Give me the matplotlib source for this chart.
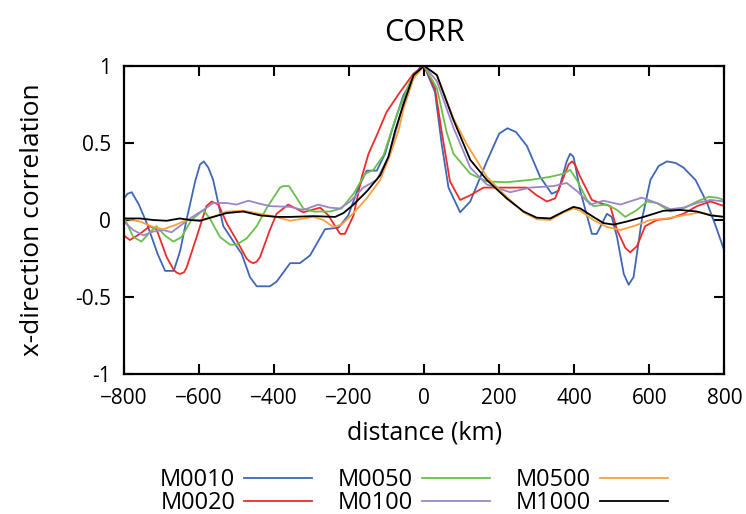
import matplotlib
matplotlib.use('Agg')
import matplotlib.pyplot as plt

plt.rcParams['font.family'] = ['Open Sans', 'DejaVu Sans']

# distance (km) / correlation pairs, one series per run
m0010_x = [-800, -790, -779, -760, -739, -710, -690, -667, -650, -633, -610, -597, -587, -575, -562,
           -535, -508, -486, -464, -446, -411, -393, -357, -331, -304, -264, -228, -202, -175, -153,
           -126, -104, -86, -55, -11, 0, 29, 47, 65, 96, 123, 167, 200, 222, 245, 274, 309, 340,
           358, 380, 389, 398, 416, 447, 460, 487, 500, 514, 532, 545, 558, 580, 603, 625, 647,
           670, 691, 723, 754, 780, 800]
m0010_y = [0.14, 0.17, 0.18, 0.10, -0.02, -0.22, -0.33, -0.33, -0.20, 0.0, 0.25, 0.36, 0.38, 0.34, 0.26,
           -0.04, -0.14, -0.22, -0.37, -0.43, -0.43, -0.40, -0.28, -0.28, -0.23, -0.06, -0.05, 0.03, 0.21, 0.32,
           0.32, 0.43, 0.58, 0.81, 0.99, 1.0, 0.83, 0.49, 0.21, 0.05, 0.12, 0.38, 0.56, 0.595, 0.57, 0.48, 0.28, 0.17,
           0.19, 0.38, 0.43, 0.41, 0.19, -0.09, -0.09, 0.04, 0.02, -0.11, -0.35, -0.42, -0.37, 0.0, 0.26, 0.35, 0.38,
           0.37, 0.34, 0.26, 0.11, -0.06, -0.2]

m0020_x = [-800, -784, -757, -731, -713, -686, -668, -660, -651, -640, -633, -606, -580, -566, -548,
           -526, -500, -473, -464, -455, -446, -437, -411, -393, -362, -322, -277, -255, -224, -211,
           -188, -166, -148, -126, -100, -64, -28, 0, 29, 47, 69, 96, 123, 158, 200, 256, 274, 300,
           327, 349, 372, 385, 394, 402, 416, 447, 469, 496, 514, 536, 549, 567, 589, 620, 656,
           691, 727, 763, 800]
m0020_y = [-0.10, -0.13, -0.09, -0.04, -0.06, -0.24, -0.32, -0.34, -0.35, -0.34, -0.31, -0.11, 0.09, 0.12, 0.10,
           -0.02, -0.13, -0.25, -0.27, -0.28, -0.27, -0.24, -0.065, 0.04, 0.10, 0.05, 0.08, 0.03, -0.09, -0.09,
           0.03, 0.28, 0.43, 0.55, 0.70, 0.83, 0.95, 1.0, 0.855, 0.57, 0.25, 0.13, 0.16, 0.21, 0.21, 0.21, 0.21, 0.16,
           0.12, 0.14, 0.28, 0.36, 0.38, 0.36, 0.28, 0.13, 0.11, 0.09, -0.065, -0.18, -0.21, -0.17, -0.04, 0.0, 0.01,
           0.04, 0.09, 0.12, 0.09]

m0050_x = [-800, -775, -753, -731, -713, -691, -668, -646, -620, -588, -571, -544, -517, -500, -473,
           -446, -420, -384, -375, -360, -344, -322, -295, -251, -220, -188, -157, -135, -108, -73,
           -37, 0, 34, 60, 78, 123, 167, 220, 283, 336, 372, 389, 407, 434, 451, 487, 514, 536,
           567, 594, 620, 656, 691, 727, 758, 780, 800]
m0050_y = [0.02, -0.11, -0.14, -0.08, -0.04, -0.10, -0.14, -0.11, 0.0, 0.065, 0.01, -0.11, -0.16, -0.16, -0.12,
           -0.04, 0.075, 0.21, 0.22, 0.22, 0.16, 0.075, 0.055, 0.055, 0.075, 0.17, 0.30, 0.325, 0.42, 0.68,
           0.90, 1.0, 0.855, 0.57, 0.43, 0.30, 0.25, 0.245, 0.26, 0.28, 0.30, 0.325, 0.26, 0.13, 0.09, 0.10, 0.065, 0.02,
           0.065, 0.12, 0.11, 0.055, 0.075, 0.12, 0.15, 0.145, 0.13]

m0100_x = [-800, -775, -748, -722, -695, -673, -651, -624, -588, -562, -526, -500, -468, -437, -411,
           -357, -322, -282, -251, -224, -197, -162, -126, -91, -55, -28, 0, 34, 78, 123, 167,
           229, 283, 345, 380, 411, 443, 478, 523, 580, 620, 656, 691, 727, 763, 800]
m0100_y = [-0.01, -0.065, -0.10, -0.075, -0.065, -0.08, -0.04, 0.01, 0.065, 0.11, 0.11, 0.10, 0.125, 0.105, 0.09,
           0.085, 0.065, 0.10, 0.08, 0.075, 0.12, 0.21, 0.26, 0.43, 0.76, 0.94, 1.0, 0.90, 0.60, 0.34, 0.23,
           0.18, 0.21, 0.22, 0.24, 0.18, 0.10, 0.125, 0.10, 0.145, 0.11, 0.07, 0.08, 0.11, 0.13, 0.12]

m0500_x = [-800, -757, -722, -695, -660, -633, -597, -562, -526, -482, -437, -393, -357, -295, -268,
           -242, -220, -188, -153, -117, -91, -68, -55, -28, 0, 34, 78, 114, 167, 220, 265, 300,
           336, 372, 398, 416, 451, 487, 523, 558, 603, 647, 691, 736, 771, 800]
m0500_y = [0.01, -0.01, -0.045, -0.06, -0.03, 0.0, 0.0, 0.02, 0.055, 0.06, 0.04, 0.02, -0.005, 0.02, 0.0,
           -0.045, -0.03, 0.045, 0.14, 0.26, 0.42, 0.58, 0.72, 0.92, 1.0, 0.94, 0.66, 0.49, 0.28, 0.15, 0.05, 0.005,
           0.0, 0.05, 0.075, 0.06, 0.0, -0.045, -0.065, -0.04, 0.0, 0.01, 0.03, 0.05, 0.03, 0.02]

m1000_x = [-800, -757, -722, -686, -651, -624, -597, -562, -526, -482, -437, -393, -357, -295, -237,
           -215, -188, -153, -117, -95, -77, -55, -28, 0, 34, 78, 123, 167, 220, 265, 300, 336,
           372, 398, 416, 451, 478, 505, 540, 585, 638, 683, 727, 763, 800]
m1000_y = [0.01, 0.01, 0.0, -0.005, 0.01, 0.0, -0.005, 0.02, 0.045, 0.055, 0.03, 0.02, 0.02, 0.025, 0.02,
           0.045, 0.10, 0.185, 0.29, 0.41, 0.58, 0.75, 0.94, 1.0, 0.94, 0.65, 0.39, 0.26, 0.14, 0.055, 0.015, 0.01,
           0.055, 0.085, 0.075, 0.02, -0.02, -0.03, -0.01, 0.02, 0.06, 0.065, 0.055, 0.03, 0.02]

series_names = ['M0010', 'M0020', 'M0050', 'M0100', 'M0500', 'M1000']
series_x = [m0010_x, m0020_x, m0050_x, m0100_x, m0500_x, m1000_x]
series_y = [m0010_y, m0020_y, m0050_y, m0100_y, m0500_y, m1000_y]
colors = ['#3f67b6', '#ee2b2b', '#6abf4b', '#9b86c8', '#f9a03f', '#000000']

x_ticks = [-800, -600, -400, -200, 0, 200, 400, 600, 800]
y_ticks = [-1, -0.5, 0, 0.5, 1]
y_tick_labels = ['-1', '-0.5', '0', '0.5', '1']

fig = plt.figure(figsize=(7.46, 5.14), dpi=100)
ax = fig.add_axes([0.166, 0.272, 0.805, 0.600])

# plot each model run
for name, xs, ys, c in zip(series_names, series_x, series_y, colors):
    ax.plot(xs, ys, color=c, lw=1.3, label=name, solid_joinstyle='round')

ax.set_xlim(-800, 800)
ax.set_ylim(-1, 1)
ax.set_xticks(x_ticks)
ax.set_yticks(y_ticks)
ax.set_yticklabels(y_tick_labels)
ax.tick_params(direction='in', top=True, right=True, length=7, width=1.5,
               labelsize=15)
ax.tick_params(axis='x', pad=10)
ax.tick_params(axis='y', pad=9)
for s in ax.spines.values():
    s.set_linewidth(1.6)

ax.set_title('CORR', fontsize=22, pad=18)
ax.set_xlabel('distance (km)', fontsize=18, labelpad=8)
ax.set_ylabel('x-direction correlation', fontsize=19, labelpad=22)

fig.legend(loc='center', bbox_to_anchor=(0.555, 0.043), ncol=3, frameon=False,
           markerfirst=False, fontsize=17, handlelength=2.9, columnspacing=1.1,
           handletextpad=0.35, labelspacing=-0.05, borderpad=0.1)

plt.savefig('out.png', dpi=100)
